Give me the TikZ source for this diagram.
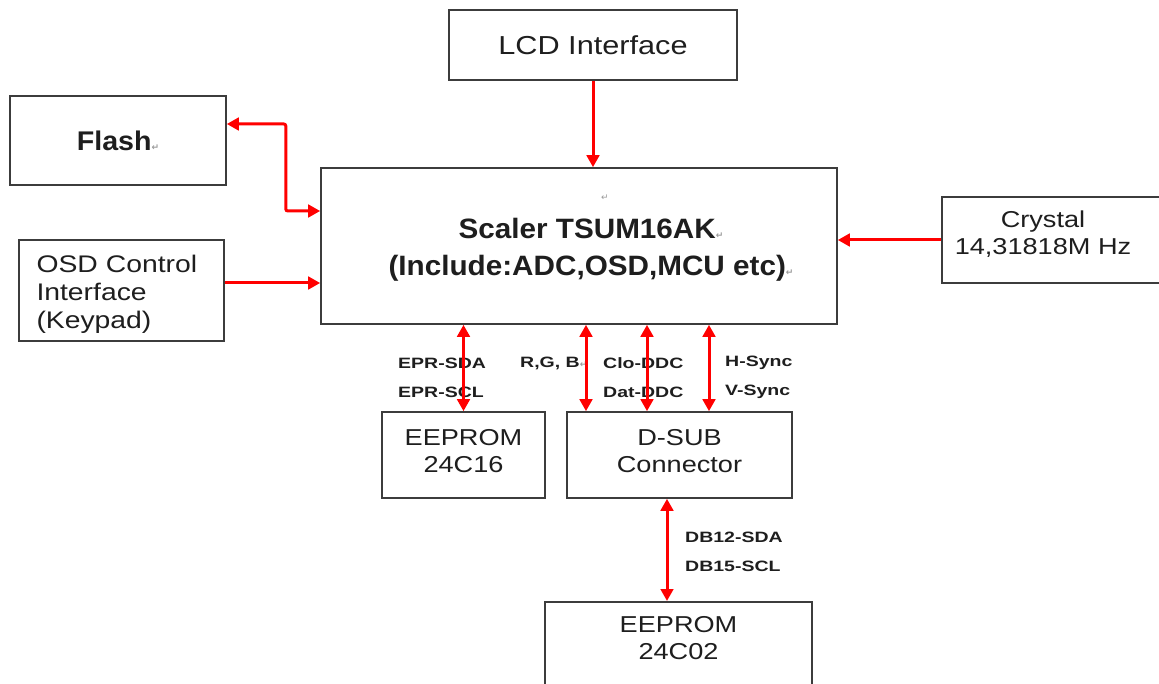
\documentclass[tikz,border=0pt]{standalone}
\usepackage{fontspec}
\usetikzlibrary{arrows.meta,calc}
\setmainfont{Liberation Sans}
\newfontfamily\boxfont[FakeStretch=1.18]{Liberation Sans}
\newfontfamily\headfont[FakeStretch=1.06]{Liberation Sans}
\newfontfamily\sigfont[FakeStretch=1.3]{Liberation Sans}
\newfontfamily\markfont{DejaVu Sans}
\definecolor{Wr}{HTML}{FF0000}
\definecolor{Bd}{HTML}{3C3C3C}
\definecolor{Tx}{HTML}{1E1E1E}
\definecolor{Mk}{HTML}{9A9A9A}
\newcommand{\pmark}{{\markfont\color{Mk}\fontsize{9}{9}\selectfont ↵}}
\tikzset{
  blk/.style={draw=Bd, line width=1.6pt, inner sep=0pt, align=center, text=Tx},
  blktxt/.style={inner sep=0pt, align=center, text=Tx, font=\boxfont\fontsize{23}{27}\selectfont},
  headtxt/.style={inner sep=0pt, align=center, text=Tx, font=\headfont\bfseries\fontsize{28}{37}\selectfont},
  sig/.style={anchor=west, inner sep=0pt, align=left, text=Tx, font=\sigfont\bfseries\fontsize{15}{29}\selectfont},
  wire/.style={draw=Wr, line width=3pt, -{Triangle[length=12pt,width=12.5pt]}},
  bus/.style={draw=Wr, line width=3pt, {Triangle[length=12pt,width=12.5pt]}-{Triangle[length=12pt,width=12.5pt]}},
}

\begin{document}
\begin{tikzpicture}[x=1pt, y=-1pt]
  \useasboundingbox (0,0) rectangle (1159,684);
  \fill[white] (0,0) rectangle (1159,684);
  % blocks
  \node[blk, minimum width=288pt, minimum height=70pt, font=\boxfont\fontsize{26}{30}\selectfont] (lcd) at (593,45) {LCD Interface};
  \node[blk, minimum width=216pt, minimum height=89pt, font=\headfont\bfseries\fontsize{27}{32}\selectfont] (flash) at (118,140.5) {Flash\pmark};
  \node[blk, minimum width=205pt, minimum height=101pt] (osd) at (121.5,290.5) {};
  \node[blktxt, text width=170pt, align=left, font=\boxfont\fontsize{24}{28}\selectfont] (osdtxt) at (121.5,294) {OSD Control\\Interface\\(Keypad)};
  \node[blk, minimum width=516pt, minimum height=156pt] (scaler) at (579,246) {};
  \node[headtxt] (scalertxt) at (591,250) {Scaler TSUM16AK\pmark\\(Include:ADC,OSD,MCU etc)\pmark};
  \node[inner sep=0pt] (scalermark) at (605,198) {\pmark};
  \node[blk, minimum width=240pt, minimum height=86pt, anchor=west] (crystal) at (941,240) {};
  \node[blktxt] (crystaltxt) at (1043,234) {Crystal\\14,31818M Hz};
  \node[blk, minimum width=163pt, minimum height=86pt] (eep16) at (463.5,455) {};
  \node[blktxt] (eep16txt) at (463.5,451) {EEPROM\\24C16};
  \node[blk, minimum width=225pt, minimum height=86pt] (dsub) at (679.5,455) {};
  \node[blktxt] (dsubtxt) at (679.5,451) {D-SUB\\Connector};
  \node[blk, minimum width=267pt, minimum height=110pt, anchor=north] (eep02) at (678.5,601) {};
  \node[blktxt] (eep02txt) at (678.5,638.5) {EEPROM\\24C02};
  % signal names
  \node[sig] (eprlab) at (398,377.5) {EPR-SDA\\EPR-SCL};
  \node[sig] (rgblab) at (520,363) {R,G, B\pmark};
  \node[sig] (ddclab) at (603,377.5) {Clo-DDC\\Dat-DDC};
  \node[sig] (synclab) at (725,377.5) {H-Sync\\V-Sync};
  \node[sig] (dblab) at (685,551.5) {DB12-SDA\\DB15-SCL};
  % connections
  \draw[wire] (lcd.south) -- (lcd.south |- scaler.north);
  \draw[bus, rounded corners=2pt] ([yshift=16.5pt]flash.east) -- ++(59,0) |- ([yshift=35pt]scaler.west);
  \draw[wire] ([yshift=7.5pt]osd.east) -- ([yshift=7.5pt]osd.east -| scaler.west);
  \draw[wire] (crystal.west) -- (crystal.west -| scaler.east);
  \draw[bus] (eep16.north) -- (eep16.north |- scaler.south);
  \draw[bus] ([xshift=-93.5pt]dsub.north) -- ([xshift=-93.5pt]dsub.north |- scaler.south);
  \draw[bus] ([xshift=-32.5pt]dsub.north) -- ([xshift=-32.5pt]dsub.north |- scaler.south);
  \draw[bus] ([xshift=29.5pt]dsub.north) -- ([xshift=29.5pt]dsub.north |- scaler.south);
  \draw[bus] ([xshift=-12.5pt]dsub.south) -- ([xshift=-12.5pt]dsub.south |- eep02.north);
\end{tikzpicture}
\end{document}
